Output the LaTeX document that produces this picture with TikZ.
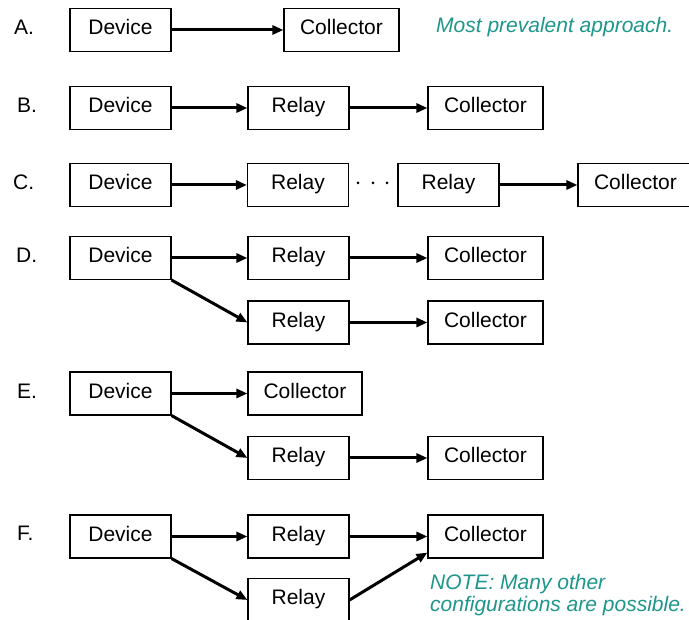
\documentclass[tikz,border=0pt]{standalone}
\usepackage{fontspec}
\setmainfont{Liberation Sans}
\usetikzlibrary{arrows.meta,calc}
\definecolor{teal1}{RGB}{30,150,140}
\begin{document}
\begin{tikzpicture}[x=1pt,y=-1pt,
 box/.style={draw=black,line width=1.1pt,minimum height=43pt,inner sep=0pt,text height=15pt,text depth=5pt,font=\fontsize{21}{25}\selectfont},
 dev/.style={box,minimum width=101pt},
 rel/.style={box,minimum width=101pt},
 col/.style={box,minimum width=115pt},
 lbl/.style={anchor=base west,inner sep=0pt,font=\fontsize{21}{25}\selectfont},
 note/.style={anchor=base west,inner sep=0pt,text=teal1,font=\fontsize{21}{25}\selectfont\itshape},
 arr/.style={line width=3pt,-{Triangle[length=11pt,width=9pt]}},
 dot/.style={fill=black,draw=none}
]
\useasboundingbox (0,0) rectangle (689,620);
% A
\node[lbl] (la) at (14,35) {A.};
\node[dev] (devA) at (120.5,30) {Device};
\node[col] (colA) at (341.5,30) {Collector};
\node[note] (nA) at (436,33) {Most prevalent approach.};
\draw[arr] (devA.east) -- (colA.west);
% B
\node[lbl] (lb) at (17,113) {B.};
\node[dev] (devB) at (120.5,108) {Device};
\node[rel] (relB) at (298.5,108) {Relay};
\node[col] (colB) at (485.5,108) {Collector};
\draw[arr] (devB.east) -- (relB.west);
\draw[arr] (relB.east) -- (colB.west);
% C
\node[lbl] (lc) at (13,190) {C.};
\node[dev] (devC) at (120.5,185) {Device};
\node[rel] (relC1) at (298,185) {Relay};
\node[rel] (relC2) at (448.5,185) {Relay};
\node[col] (colC) at (635.5,185) {Collector};
\fill (358,183) circle (1.5);
\fill (373,183) circle (1.5);
\fill (387,183) circle (1.5);
\draw[arr] (devC.east) -- (relC1.west);
\draw[arr] (relC2.east) -- (colC.west);
% D
\node[lbl] (ld) at (16,263) {D.};
\node[dev] (devD) at (120.5,258) {Device};
\node[rel] (relD1) at (298.5,258) {Relay};
\node[col] (colD1) at (485.5,258) {Collector};
\node[rel] (relD2) at (298.5,322.5) {Relay};
\node[col] (colD2) at (485.5,322.5) {Collector};
\draw[arr] (devD.east) -- (relD1.west);
\draw[arr] (devD.south east) -- (relD2.west);
\draw[arr] (relD1.east) -- (colD1.west);
\draw[arr] (relD2.east) -- (colD2.west);
% E
\node[lbl] (le) at (17,398.5) {E.};
\node[dev] (devE) at (120.5,393.5) {Device};
\node[box,minimum width=114pt] (colE1) at (305,393.5) {Collector};
\node[rel] (relE2) at (298.5,458) {Relay};
\node[col] (colE2) at (485.5,458) {Collector};
\draw[arr] (devE.east) -- (colE1.west);
\draw[arr] (devE.south east) -- (relE2.west);
\draw[arr] (relE2.east) -- (colE2.west);
% F
\node[lbl] (lf) at (17,541) {F.};
\node[dev] (devF) at (120.5,536.5) {Device};
\node[rel] (relF1) at (298.5,536.5) {Relay};
\node[col] (colF) at (485.5,536.5) {Collector};
\node[rel] (relF2) at (298.5,600) {Relay};
\draw[arr] (devF.east) -- (relF1.west);
\draw[arr] (devF.south east) -- (relF2.west);
\draw[arr] (relF1.east) -- (colF.west);
\draw[arr] (relF2.east) -- ([yshift=6pt]colF.south west);
\node[note] (n1) at (430,590) {NOTE: Many other};
\node[note] (n2) at (430,611) {configurations are possible.};
\end{tikzpicture}
\end{document}
